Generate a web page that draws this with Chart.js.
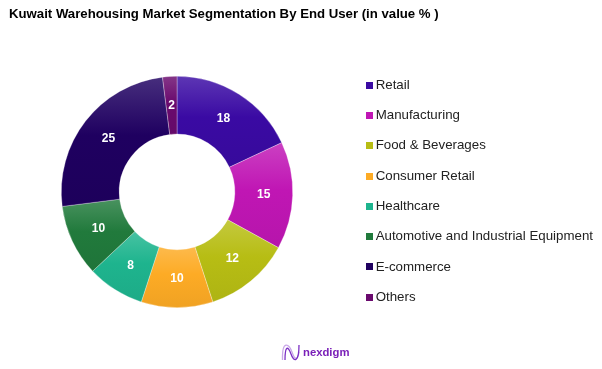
<!DOCTYPE html>
<html>
<head>
<meta charset="utf-8">
<script src="https://cdn.jsdelivr.net/npm/chart.js@4"></script>
<style>
    body { margin: 0; background: #fff; }
    canvas { display: block; }
</style>
</head>
<body>
<canvas id="chart" width="602" height="369"></canvas>
<script>
const categories = ['Retail', 'Manufacturing', 'Food & Beverages', 'Consumer Retail', 'Healthcare', 'Automotive and Industrial Equipment', 'E-commerce', 'Others'];
const shares = [18, 15, 12, 10, 8, 10, 25, 2];
const colors = ['#3a0aa3', '#c016b4', '#b7bd14', '#fdab25', '#1eb48e', '#217a3c', '#1f0060', '#6a0a6e'];

// lighter at the top of each slice, a bit darker at the bottom
function shade(hex, amount) {
    const n = parseInt(hex.slice(1), 16);
    const parts = [n >> 16, (n >> 8) & 255, n & 255].map(c =>
        Math.round(amount > 0 ? c + (255 - c) * amount : c * (1 + amount)));
    return `rgb(${parts.join(',')})`;
}

// legend swatch as a small canvas, so the gap to the text can be tighter than chart.js allows
function swatch(color) {
    const c = document.createElement('canvas');
    c.width = 7;
    c.height = 7;
    const g = c.getContext('2d');
    g.fillStyle = color;
    g.fillRect(0, 0, 7, 7);
    return c;
}

const bevelPlugin = {
    id: 'bevel',
    beforeDatasetDraw(chart) {
        const ctx = chart.ctx;
        chart.getDatasetMeta(0).data.forEach((arc, i) => {
            const p = arc.getProps(['x', 'y', 'startAngle', 'endAngle', 'innerRadius', 'outerRadius']);
            // vertical extent of the slice
            const ys = [];
            [p.innerRadius, p.outerRadius].forEach(r => {
                ys.push(p.y + r * Math.sin(p.startAngle), p.y + r * Math.sin(p.endAngle));
            });
            [-Math.PI / 2, Math.PI / 2, 3 * Math.PI / 2].forEach(a => {
                if (a >= p.startAngle && a <= p.endAngle) ys.push(p.y + p.outerRadius * Math.sin(a));
            });
            const g = ctx.createLinearGradient(0, Math.min(...ys), 0, Math.max(...ys));
            g.addColorStop(0, shade(colors[i], 0.18));
            g.addColorStop(0.45, colors[i]);
            g.addColorStop(1, shade(colors[i], -0.05));
            arc.options.backgroundColor = g;
        });
    }
};

// legend sits lower and further right than the layout would put it
const legendPlace = {
    id: 'legendPlace',
    afterLayout(chart) {
        chart.legend.left = 352;
        chart.legend.top = 61.5;
        chart.legend.bottom = 369;
    }
};

const valueLabels = {
    id: 'valueLabels',
    afterDatasetsDraw(chart) {
        const ctx = chart.ctx;
        ctx.save();
        ctx.font = 'bold 12px "Liberation Sans"';
        ctx.fillStyle = '#fff';
        ctx.textAlign = 'center';
        ctx.textBaseline = 'middle';
        chart.getDatasetMeta(0).data.forEach((arc, i) => {
            const c = arc.getCenterPoint();
            ctx.fillText(shares[i], c.x, c.y);
        });
        ctx.restore();
    }
};

const logo = {
    id: 'logo',
    afterDraw(chart) {
        const ctx = chart.ctx;
        ctx.save();
        ctx.lineWidth = 1.3;
        ctx.strokeStyle = '#c9a6e8';
        ctx.beginPath();
        ctx.moveTo(282.5, 360);
        ctx.bezierCurveTo(282, 339, 289, 344, 292, 352);
        ctx.bezierCurveTo(295, 361, 298, 360, 299, 352);
        ctx.stroke();
        ctx.strokeStyle = '#7b2fc4';
        ctx.beginPath();
        ctx.moveTo(285, 360);
        ctx.bezierCurveTo(285, 345, 288, 346, 291, 354);
        ctx.bezierCurveTo(294, 363, 299, 362, 299, 345);
        ctx.stroke();
        ctx.fillStyle = '#7a1fb8';
        ctx.font = 'bold 11.3px "Liberation Sans"';
        ctx.textBaseline = 'alphabetic';
        ctx.fillText('nexdigm', 303, 356);
        ctx.restore();
    }
};

new Chart(document.getElementById('chart'), {
    type: 'doughnut',
    data: {
        labels: categories,
        datasets: [{
            data: shares,
            backgroundColor: colors,
            borderColor: 'rgba(255,255,255,0.4)',
            borderWidth: 0.75
        }]
    },
    options: {
        responsive: false,
        animation: false,
        cutout: '50%',
        layout: { padding: { left: 9, right: 6, top: 0, bottom: 61 } },
        plugins: {
            title: {
                display: true,
                text: 'Kuwait Warehousing Market Segmentation By End User (in value % )',
                align: 'start',
                color: '#000',
                font: { family: '"Liberation Sans"', size: 13.2, weight: 'bold' },
                padding: { top: 6, bottom: 54 }
            },
            legend: {
                position: 'right',
                align: 'start',
                labels: {
                    color: '#222',
                    font: { family: '"Liberation Sans"', size: 13.3 },
                    usePointStyle: true,
                    pointStyleWidth: 0.01,
                    boxHeight: 7,
                    padding: 17,
                    generateLabels: () => categories.map((name, i) => ({
                        text: name,
                        pointStyle: swatch(colors[i]),
                        fontColor: '#222',
                        lineWidth: 0,
                        index: i
                    }))
                }
            },
            tooltip: { enabled: false }
        }
    },
    plugins: [bevelPlugin, legendPlace, valueLabels, logo]
});
</script>
</body>
</html>
